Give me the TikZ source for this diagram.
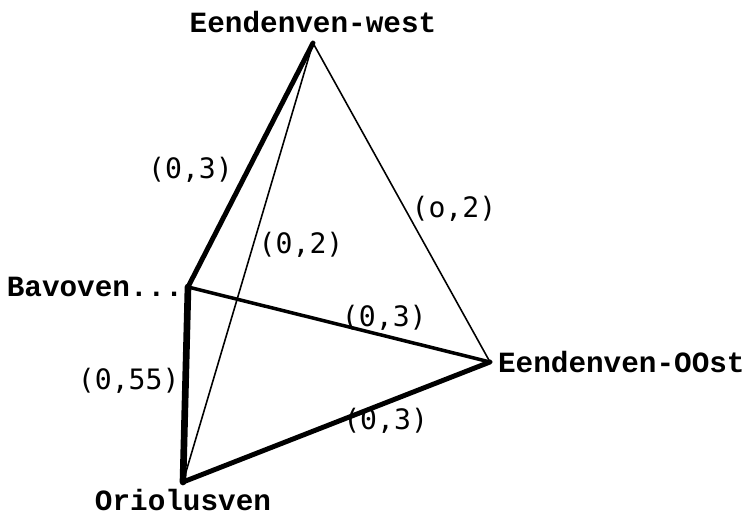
\documentclass[tikz,border=0pt]{standalone}
\usepackage{fontspec}
\newfontfamily\typefont{Liberation Mono}
\newfontfamily\numfont{DejaVu Sans Mono}
\usetikzlibrary{positioning}

\begin{document}
\begin{tikzpicture}[x=0.02cm,y=-0.02cm,line join=round,line cap=round,
  plaats/.style={font=\typefont\bfseries\fontsize{16.7}{18}\selectfont,inner sep=1pt},
  afst/.style={font=\numfont\fontsize{16}{18}\selectfont,inner sep=1pt},
  dun/.style={line width=0.9pt},
  half/.style={line width=2pt},
  dik/.style={line width=2.8pt},
  zwaar/.style={line width=3.8pt}]
\useasboundingbox (0,0) rectangle (745,518);
\coordinate (west) at (313,43); \coordinate (bavo) at (188,287);
\coordinate (oost) at (490,362); \coordinate (orio) at (183,482);
\node[plaats,above=0.16cm of west] (westnaam) {Eendenven-west};
\node[plaats,left=0.06cm of bavo] (bavonaam) {Bavoven...};
\node[plaats,right=0.12cm of oost] (oostnaam) {Eendenven-OOst};
\node[plaats,below=0.1cm of orio] (orionaam) {Oriolusven};
\draw[dik] (west) -- node[afst,pos=0.52,left=0.22cm]{(0,3)} (bavo);
\draw[dun] (west) -- node[afst,pos=0.46,right=0.06cm]{(0,2)} (orio);
\draw[dun] (west) -- node[afst,pos=0.52,right=0.08cm]{(o,2)} (oost);
\draw[half] (bavo) -- node[afst,pos=0.65,above=0.04cm]{(0,3)} (oost);
\draw[zwaar] (bavo) -- node[afst,pos=0.48,left=0.02cm]{(0,55)} (orio);
\draw[dik] (orio) -- node[afst,pos=0.66,below=0.02cm]{(0,3)} (oost);
\end{tikzpicture}
\end{document}
